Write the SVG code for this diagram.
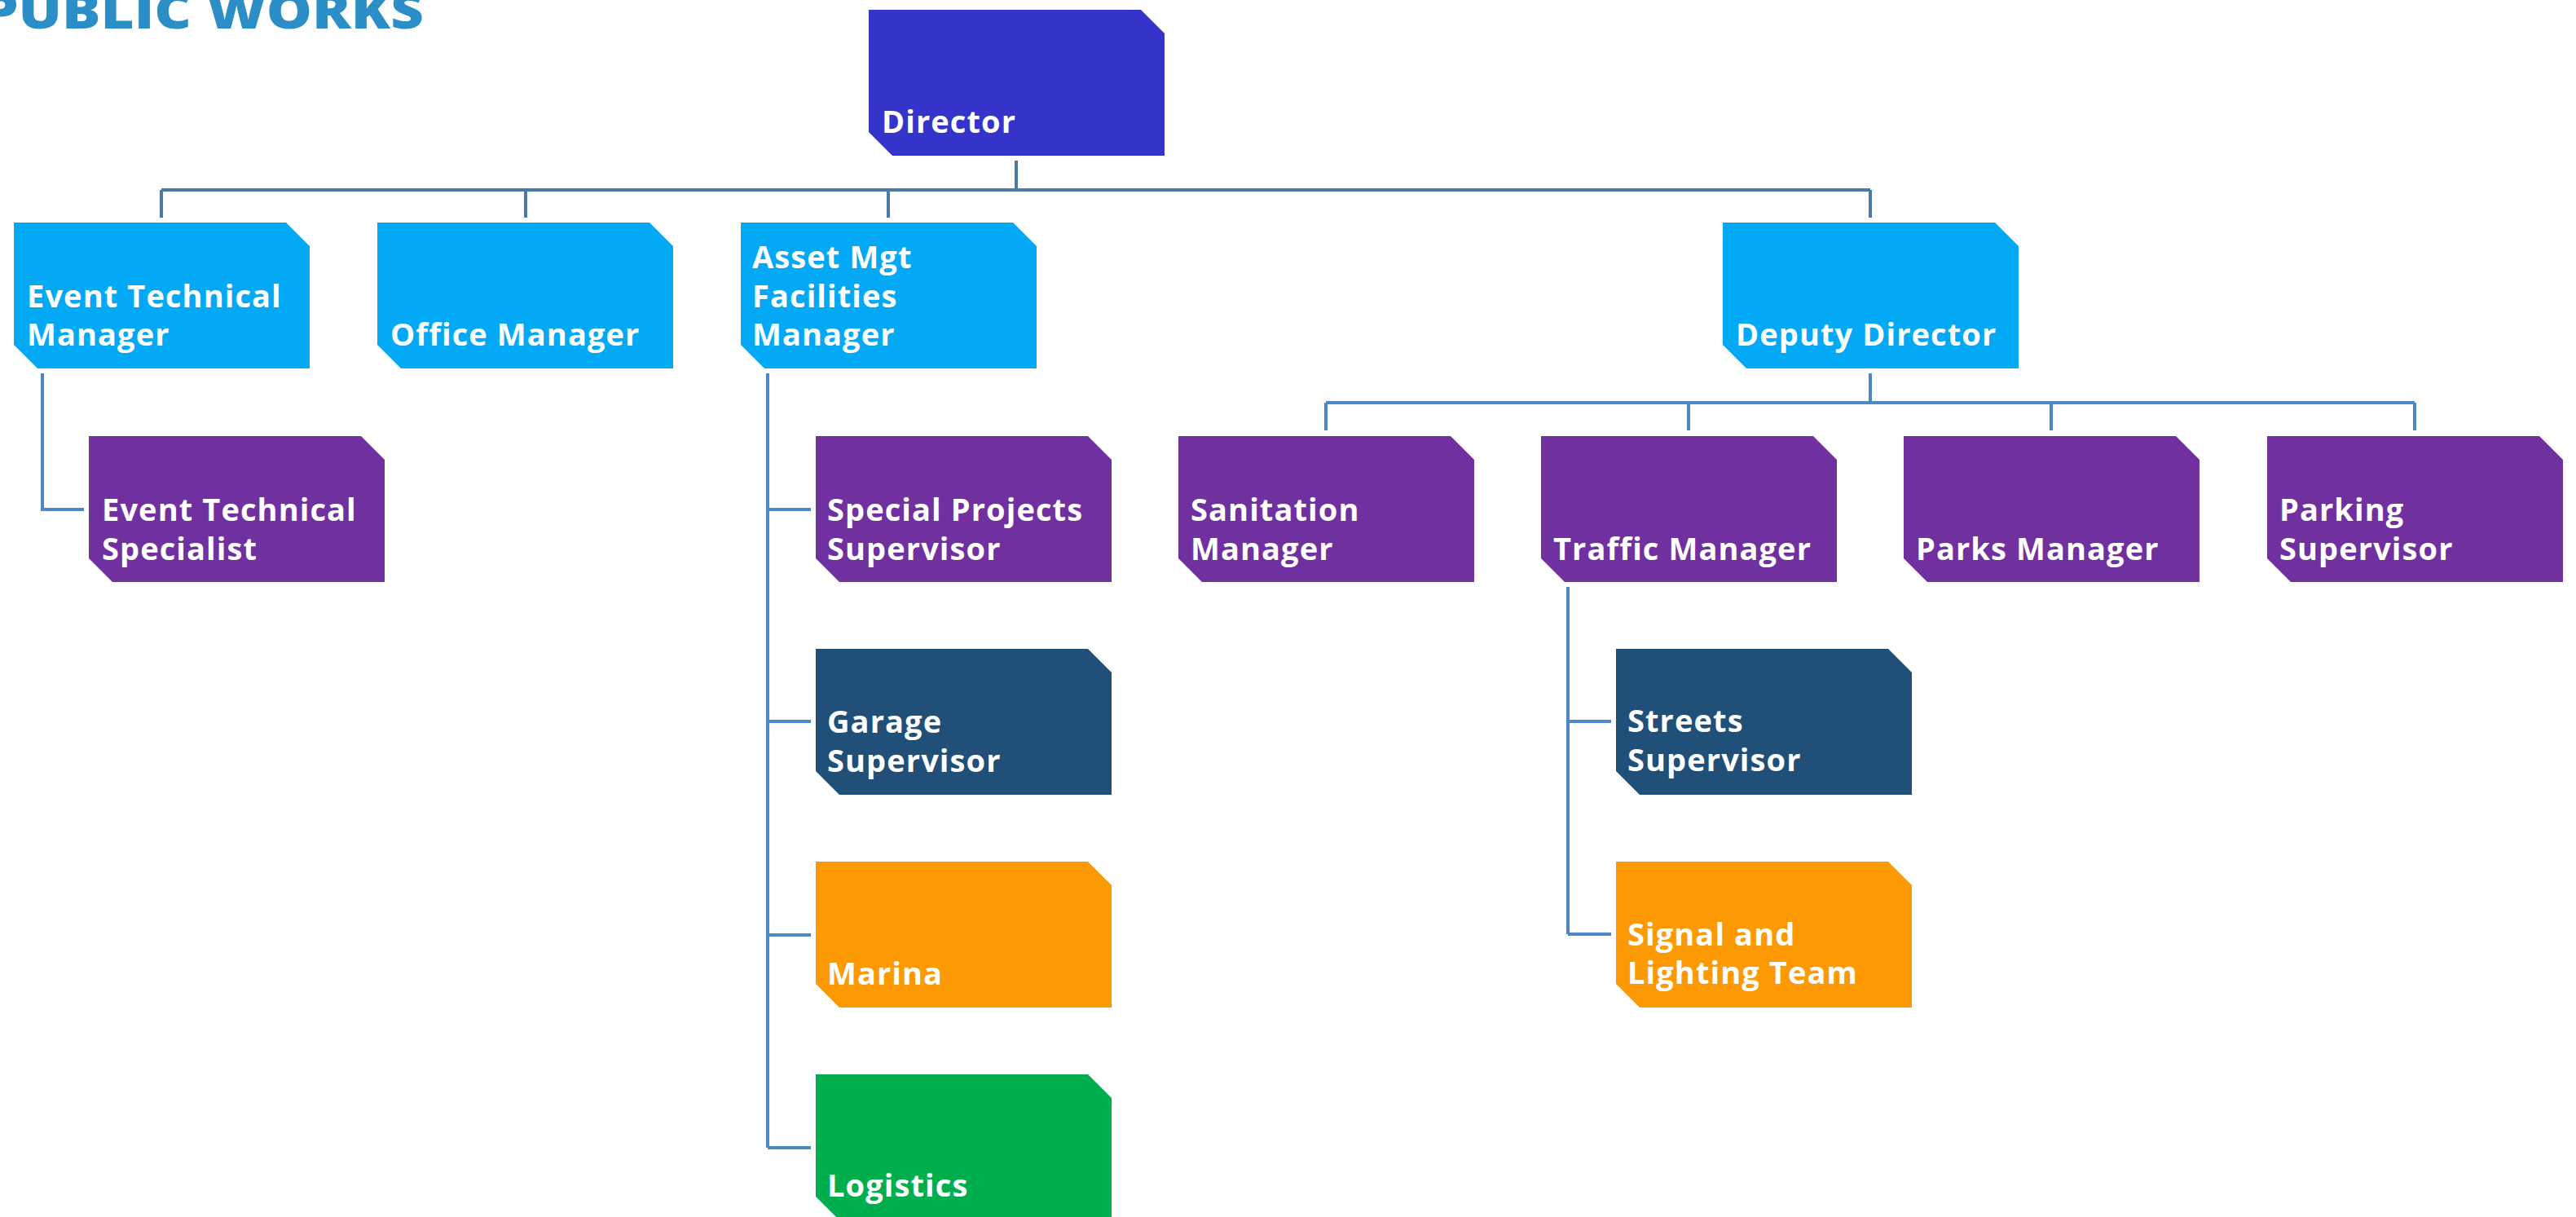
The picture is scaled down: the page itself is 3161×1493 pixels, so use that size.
<svg xmlns="http://www.w3.org/2000/svg" width="3161" height="1493" viewBox="0 0 3161 1493">
<style>
.lbl{font-family:"Open Sans","Liberation Sans",sans-serif;font-weight:700;font-size:38px;letter-spacing:1.1px;fill:#ffffff}
.title{font-family:"Open Sans","Liberation Sans",sans-serif;font-weight:800;font-size:60px;fill:#2B8EC6}
.c1{fill:#3434CB}.c2{fill:#03A9F5}.c3{fill:#7030A0}.c4{fill:#204F78}.c5{fill:#FD9902}.c6{fill:#00AE4E}
.ln{fill:none;stroke:#4A7AA8;stroke-width:4}
.ln2{fill:none;stroke:#4F86C4;stroke-width:4}
</style>
<defs>
<path id="box" d="M0,0 H334 L363,29 V179 H29 L0,150 Z"/>
</defs>
<rect width="3161" height="1493" fill="#ffffff"/>
<text class="title" x="-22" y="35" textLength="542" lengthAdjust="spacingAndGlyphs">PUBLIC WORKS</text>
<g id="connectors">
<path class="ln" d="M1247,197 V233 M198,233 H2295 M198,233 V267 M645,233 V267 M1090,233 V267 M2295,233 V267"/>
<path class="ln2" d="M52,458 V625 H103"/>
<path class="ln2" d="M942,458 V1408 M942,625 H995 M942,885 H995 M942,1147 H995 M942,1408 H995"/>
<path class="ln2" d="M2295,458 V494 M1627,494 H2963 M1627,494 V528 M2072,494 V528 M2517,494 V528 M2963,494 V528"/>
<path class="ln2" d="M1924,720 V1146 M1924,885 H1977 M1924,1146 H1977"/>
</g>
<g id="director"><use href="#box" x="1066" y="12" class="c1"/><text class="lbl" x="1082" y="163">Director</text></g>
<g id="event-technical-manager"><use href="#box" x="17" y="273" class="c2"/><text class="lbl" x="33" y="377">Event Technical</text><text class="lbl" x="33" y="424">Manager</text></g>
<g id="office-manager"><use href="#box" x="463" y="273" class="c2"/><text class="lbl" x="479" y="424">Office Manager</text></g>
<g id="asset-mgt"><use href="#box" x="909" y="273" class="c2"/><text class="lbl" x="923" y="329">Asset Mgt</text><text class="lbl" x="923" y="377">Facilities</text><text class="lbl" x="923" y="424">Manager</text></g>
<g id="deputy-director"><use href="#box" x="2114" y="273" class="c2"/><text class="lbl" x="2130" y="424">Deputy Director</text></g>
<g id="event-technical-specialist"><use href="#box" x="109" y="535" class="c3"/><text class="lbl" x="125" y="639">Event Technical</text><text class="lbl" x="125" y="687">Specialist</text></g>
<g id="special-projects"><use href="#box" x="1001" y="535" class="c3"/><text class="lbl" x="1015" y="639">Special Projects</text><text class="lbl" x="1015" y="687">Supervisor</text></g>
<g id="garage"><use href="#box" x="1001" y="796" class="c4"/><text class="lbl" x="1015" y="899">Garage</text><text class="lbl" x="1015" y="947">Supervisor</text></g>
<g id="marina"><use href="#box" x="1001" y="1057" class="c5"/><text class="lbl" x="1015" y="1208">Marina</text></g>
<g id="logistics"><use href="#box" x="1001" y="1318" class="c6"/><text class="lbl" x="1015" y="1468">Logistics</text></g>
<g id="sanitation"><use href="#box" x="1446" y="535" class="c3"/><text class="lbl" x="1461" y="639">Sanitation</text><text class="lbl" x="1461" y="687">Manager</text></g>
<g id="traffic"><use href="#box" x="1891" y="535" class="c3"/><text class="lbl" x="1906" y="687">Traffic Manager</text></g>
<g id="parks"><use href="#box" x="2336" y="535" class="c3"/><text class="lbl" x="2351" y="687">Parks Manager</text></g>
<g id="parking"><use href="#box" x="2782" y="535" class="c3"/><text class="lbl" x="2797" y="639">Parking</text><text class="lbl" x="2797" y="687">Supervisor</text></g>
<g id="streets"><use href="#box" x="1983" y="796" class="c4"/><text class="lbl" x="1997" y="898">Streets</text><text class="lbl" x="1997" y="946">Supervisor</text></g>
<g id="signal"><use href="#box" x="1983" y="1057" class="c5"/><text class="lbl" x="1997" y="1160">Signal and</text><text class="lbl" x="1997" y="1207">Lighting Team</text></g>
</svg>
